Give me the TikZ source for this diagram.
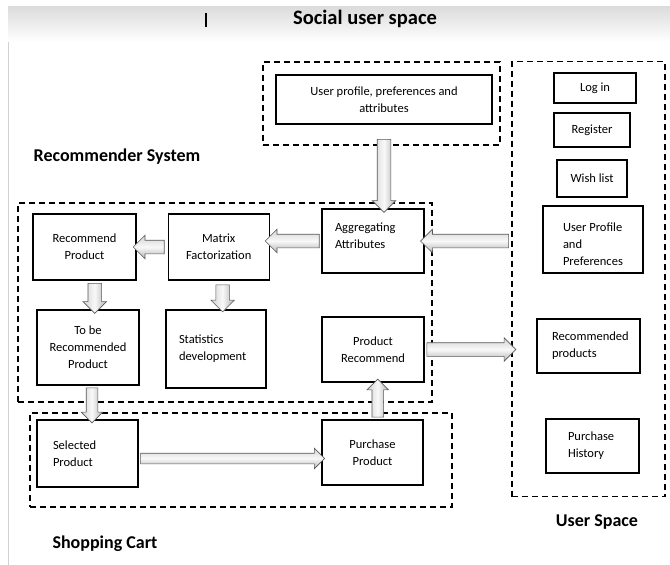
\documentclass[tikz,border=0pt]{standalone}
\usepackage{fontspec}
\setmainfont{Carlito}
\usepackage{tikz}
\usetikzlibrary{arrows.meta, positioning, shapes.arrows}

\begin{document}
\begin{tikzpicture}[x=1pt, y=-1pt, thick]
    % Estilos para bloques, zonas punteadas y flechas gruesas
    \tikzstyle{block} = [draw, rectangle, line width=1.2pt, inner sep=0pt, align=center, font=\fontsize{12.5}{17}\selectfont]
    \tikzstyle{lblock} = [block, align=flush left] % texto a la izquierda
    \tikzstyle{zone} = [draw, rectangle, line width=1.3pt, dash pattern=on 6pt off 4pt, inner sep=0pt]
    \tikzstyle{title} = [font=\fontsize{18}{20}\selectfont\bfseries]
    \tikzstyle{fat} = [single arrow, draw=black!65, line width=0.6pt, inner sep=6.5pt, single arrow head extend=5pt, top color=gray!35, bottom color=gray!60, middle color=gray!5]
    \tikzstyle{fatv} = [fat, shading angle=90]

    \useasboundingbox (0,0) rectangle (670,565);
    \shade[top color=gray!28, bottom color=white] (8,6) rectangle (670,42); % banda superior
    \draw[gray!35, line width=0.8pt] (8,42) -- (8,565);
    \draw[line width=1.5pt] (206,13) -- (206,27);

    % Zonas
    \node[zone, minimum width=237, minimum height=83] (zprofile) at (381.5,103.5) {};
    \node[zone, minimum width=153, minimum height=435] (zuser) at (588.5,279) {};
    \node[zone, minimum width=414, minimum height=199] (zrec) at (225,302.5) {};
    \node[zone, minimum width=422, minimum height=94] (zcart) at (241,460) {};

    % Titulos
    \node[title, font=\fontsize{20.5}{22}\selectfont\bfseries] (tsocial) at (365,19) {Social user space};
    \node[title] (trec) at (117,157) {Recommender System};
    \node[title] (tcart) at (105,544) {Shopping Cart};
    \node[title] (tuser) at (597,522) {User Space};

    % Bloques
    \node[block, minimum width=216, minimum height=49] (profile) at (384,99.5) {User profile, preferences and\\attributes};
    \node[block, minimum width=82, minimum height=30] (login) at (595,88) {Log in};
    \node[block, minimum width=76, minimum height=34] (register) at (592,130) {Register};
    \node[block, minimum width=70, minimum height=37] (wish) at (592,178.5) {Wish list};
    \node[lblock, minimum height=67, text width=60, inner xsep=20pt, text depth=25pt] (uprofile) at (593,239.5) {User Profile\\and\\Preferences};
    \node[lblock, minimum height=54, text width=73, inner xsep=15pt] (recprods) at (588.5,346) {Recommended\\products};
    \node[lblock, minimum height=54, text width=49, inner xsep=22pt] (history) at (592.5,446) {Purchase\\History};

    \node[block, minimum width=103, minimum height=66] (recprod) at (84.5,247) {Recommend\\Product};
    \node[block, minimum width=101, minimum height=66, right=31pt of recprod] (matrix) {Matrix\\Factorization};
    \node[lblock, minimum height=64, text width=76, inner xsep=13pt, text depth=27pt] (aggr) at (373,241) {Aggregating\\Attributes};
    \node[block, minimum width=102, minimum height=75] (tobe) at (88,347.5) {To be\\Recommended\\Product};
    \node[lblock, minimum height=78, text width=74, inner xsep=13pt] (stats) at (216,349) {Statistics\\development};
    \node[block, minimum width=102, minimum height=65] (precom) at (373,349.5) {Product\\Recommend};
    \node[lblock, minimum height=67, text width=69, inner xsep=16pt] (selected) at (87.5,453.5) {Selected\\Product};
    \node[block, minimum width=101, minimum height=65] (purchase) at (372.5,452.5) {Purchase\\Product};

    % Flechas gruesas
    \path ([yshift=-12pt]profile.south) -- node[fatv, minimum height=73, shape border rotate=270] {} (aggr.north -| profile.south);
    \path (aggr.east -| zuser.west) -- node[fat, minimum height=88, shape border rotate=180] {} (aggr.east);
    \path (aggr.west) -- node[fat, minimum height=54, shape border rotate=180] {} (aggr.west -| matrix.east);
    \path (matrix.west) -- node[fat, minimum height=31, shape border rotate=180] {} (recprod.east);
    \path ([xshift=10pt]recprod.south) -- node[fatv, minimum height=30, shape border rotate=270] {} ([xshift=7pt]tobe.north);
    \path ([xshift=4.5pt]matrix.south) -- node[fatv, minimum height=27, shape border rotate=270] {} ([xshift=6pt]stats.north);
    \path (precom.east) -- node[fat, minimum height=89] {} (precom.east -| zuser.west);
    \path ([xshift=4pt]tobe.south) -- node[fatv, minimum height=35, inner sep=5.5pt, shape border rotate=270] {} ([xshift=4.5pt]selected.north);
    \path ([xshift=5pt]purchase.north) -- node[fatv, minimum height=38, inner sep=5.5pt, shape border rotate=90] {} ([xshift=5pt]precom.south);
    \path ([yshift=-6pt]selected.east) -- node[fat, minimum height=184, inner sep=5pt] {} ([yshift=-5pt]purchase.west);
\end{tikzpicture}
\end{document}
